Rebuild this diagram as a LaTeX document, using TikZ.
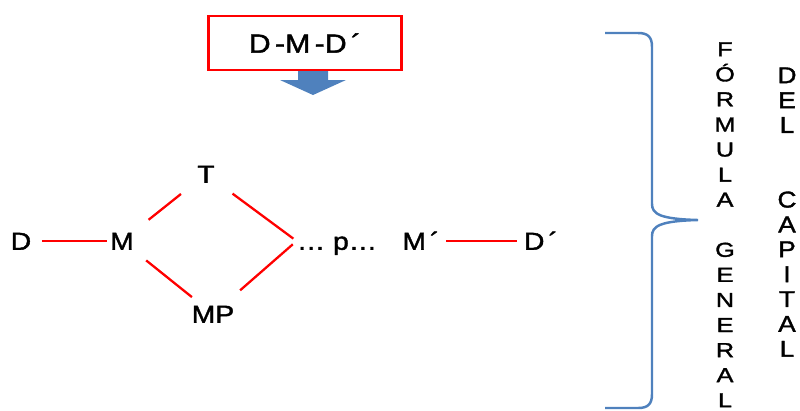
\documentclass[tikz,border=0pt]{standalone}
\usepackage{fontspec}
\setmainfont[FakeStretch=1.15, FakeBold=1.6]{Liberation Sans}
\newfontfamily\anchafont[FakeStretch=1.25, FakeBold=1.6]{Liberation Sans}
\definecolor{azul}{RGB}{79,129,189}
\tikzset{
  lbl/.style={inner sep=0pt, text height=10pt, text depth=0pt, font=\fontsize{14}{16}\selectfont},
  letra/.style={inner sep=0pt, text height=8.2pt, text depth=0pt, font=\anchafont\fontsize{11.5}{13}\selectfont},
  letrb/.style={inner sep=0pt, text height=9.3pt, text depth=0pt, font=\fontsize{13}{15}\selectfont},
  link/.style={red, line width=1.3pt},
}
\begin{document}
\begin{tikzpicture}[x=0.02cm, y=-0.02cm]
      \useasboundingbox (0,0) rectangle (800,410);
      \node[draw=red, line width=1.4pt, minimum width=3.86cm, minimum height=1.08cm,
        font=\fontsize{15}{18}\selectfont] (formula) at (305,43) {D\,-M\,-D\,´};
      \fill[azul] (298,71) -- (328,71) -- (328,80) -- (346,80) -- (313,95)
        -- (280,80) -- (298,80) -- cycle;
      \draw
        (21,241) node[lbl] (d){D}
        (122,241) node[lbl] (m){M}
        (206,174) node[lbl] (t){T}
        (213,314) node[lbl] (mp){MP}
        (337,241) node[lbl] (p){…\ p…}
        (421,241) node[lbl] (m2){M\,´}
        (541,241) node[lbl] (d2){D\,´};
      \begin{scope}[link]
        \draw[shorten <=0.42cm, shorten >=0.3cm] (d.center) to (m.center);
        \draw[shorten <=0.68cm, shorten >=0.64cm] (m.center) to (t.center);
        \draw[shorten <=0.66cm, shorten >=0.08cm] (t.center) to (p.west);
        \draw[shorten <=0.62cm, shorten >=0.54cm] (m.center) to (mp.center);
        \draw[shorten <=0.72cm, shorten >=0.1cm] (mp.center) to (p.west);
        \draw[shorten <=0.5cm, shorten >=0.48cm] (m2.center) to (d2.center);
      \end{scope}
      \draw[azul, line width=1.4pt] (605,33) -- (638,33) .. controls (648,33) and (652,37) .. (652,47)
        -- (652,204) .. controls (652,214) and (660,219) .. (698,220)
        .. controls (660,221) and (652,226) .. (652,236)
        -- (652,394) .. controls (652,404) and (648,408) .. (638,408) -- (605,408);
      \draw
        (725,49.0) node[letra] (fg1){F}
        (725,74.1) node[letra] (fg2){Ó}
        (725,99.1) node[letra] (fg3){R}
        (725,124.2) node[letra] (fg4){M}
        (725,149.3) node[letra] (fg5){U}
        (725,174.4) node[letra] (fg6){L}
        (725,199.4) node[letra] (fg7){A}
        (725,249.6) node[letra] (fg8){G}
        (725,274.6) node[letra] (fg9){E}
        (725,299.7) node[letra] (fg10){N}
        (725,324.8) node[letra] (fg11){E}
        (725,349.9) node[letra] (fg12){R}
        (725,374.9) node[letra] (fg13){A}
        (725,400.0) node[letra] (fg14){L};
      \draw
        (787,75.0) node[letrb] (dc1){D}
        (787,99.9) node[letrb] (dc2){E}
        (787,124.7) node[letrb] (dc3){L}
        (787,199.3) node[letrb] (dc4){C}
        (787,224.2) node[letrb] (dc5){A}
        (787,249.0) node[letrb] (dc6){P}
        (787,273.9) node[letrb] (dc7){I}
        (787,298.8) node[letrb] (dc8){T}
        (787,323.6) node[letrb] (dc9){A}
        (787,348.5) node[letrb] (dc10){L};
    \end{tikzpicture}
\end{document}
